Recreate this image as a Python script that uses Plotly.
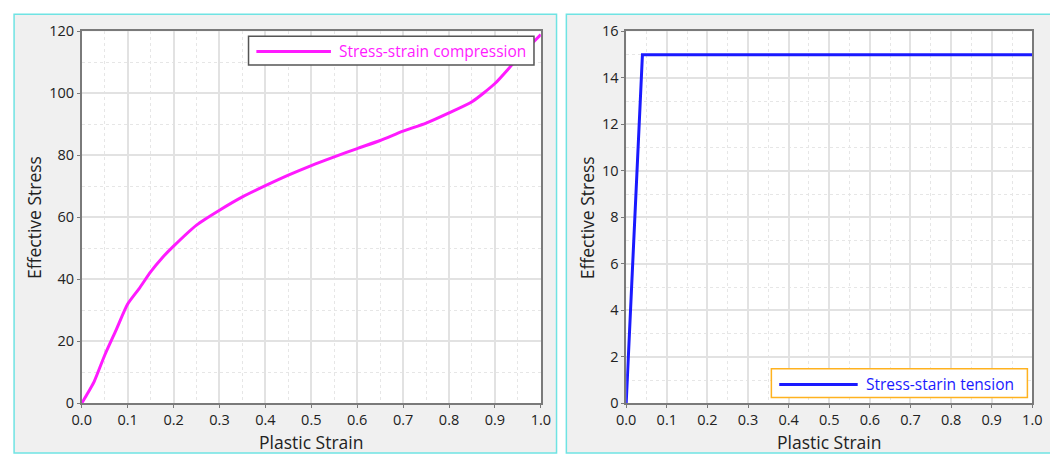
import plotly.graph_objects as go

# ---------------- data ----------------
comp_strain = [0, 0.01, 0.027, 0.05, 0.075, 0.1, 0.125, 0.15, 0.175, 0.2, 0.25, 0.3,
               0.35, 0.4, 0.45, 0.5, 0.55, 0.6, 0.65, 0.7, 0.75, 0.8, 0.85, 0.9,
               0.94, 0.97, 1.0]
comp_stress = [0, 2.5, 7, 15.5, 23.7, 32, 37, 42.4, 46.9, 50.7, 57.5, 62.3,
               66.6, 70.2, 73.6, 76.7, 79.5, 82.2, 84.8, 87.8, 90.4, 93.7, 97.3, 103.2,
               109.7, 114.5, 119]
tens_strain = [0, 0.04, 1.0]
tens_stress = [0, 15, 15]

comp_name = "Stress-strain compression"
tens_name = "Stress-starin tension"
x_title = "Plastic Strain"
y_title = "Effective Stress"

# figure is placed inside the page body (8px default margin)
OFF = 8
W, H = 1058 - OFF, 464 - OFF
FONT = "Open Sans"
TXT = "#222222"
MAG = "#ff1aff"
BLUE = "#1a1aff"
TICK_SIZE = 14.5
TITLE_SIZE = 17.5
LEG_SIZE = 15.5


def px(x):
    return (x - OFF) / W


def py(y):
    return 1 - (y - OFF) / H


fig = go.Figure()
fig.add_trace(go.Scatter(x=comp_strain, y=comp_stress, mode="lines", name=comp_name,
                         line=dict(color=MAG, width=3, shape="spline", smoothing=0.6),
                         xaxis="x", yaxis="y", showlegend=False))
fig.add_trace(go.Scatter(x=tens_strain, y=tens_stress, mode="lines", name=tens_name,
                         line=dict(color=BLUE, width=3), xaxis="x2", yaxis="y2",
                         showlegend=False))

ydom = [py(410), py(22)]
axis_common = dict(
    showline=True, linecolor="#7a7a7a", linewidth=1.5, mirror=True,
    showgrid=True, gridcolor="#e2e2e2", gridwidth=1.5,
    ticks="outside", ticklen=3, tickcolor="#7a7a7a", tickwidth=1,
    tickfont=dict(family=FONT, size=TICK_SIZE, color=TXT),
    zeroline=False,
)
xcommon = dict(axis_common, range=[0, 1], dtick=0.1, tick0=0, tickformat=".1f",
               minor=dict(dtick=0.05, showgrid=True, gridcolor="#e6e6e6",
                          griddash="dot", gridwidth=1))

fig.update_layout(
    width=W, height=H,
    margin=dict(l=0, r=0, t=0, b=0),
    paper_bgcolor="white", plot_bgcolor="white",
    font=dict(family=FONT, color=TXT),
    showlegend=False,
    xaxis=dict(xcommon, domain=[px(73), px(541)], anchor="y"),
    yaxis=dict(axis_common, domain=ydom, range=[0, 120], dtick=20, anchor="x",
               minor=dict(dtick=10, showgrid=True, gridcolor="#e6e6e6",
                          griddash="dot", gridwidth=1)),
    xaxis2=dict(xcommon, domain=[px(628), px(1042)], anchor="y2"),
    yaxis2=dict(axis_common, domain=ydom, range=[0, 16], dtick=2, anchor="x2",
                minor=dict(dtick=1, showgrid=True, gridcolor="#e6e6e6",
                           griddash="dot", gridwidth=1)),
)

shapes = []
# panel backgrounds
shapes.append(dict(type="rect", xref="paper", yref="paper", layer="below",
                   x0=px(4), x1=px(557), y0=py(462), y1=py(4),
                   fillcolor="#f0f0f0", line=dict(color="#6fe3e3", width=1.5)))
shapes.append(dict(type="rect", xref="paper", yref="paper", layer="below",
                   x0=px(567), x1=px(1066), y0=py(462), y1=py(4),
                   fillcolor="#f0f0f0", line=dict(color="#6fe3e3", width=1.5)))
# white plotting areas
shapes.append(dict(type="rect", xref="x domain", yref="y domain", layer="below",
                   x0=0, x1=1, y0=0, y1=1, fillcolor="white", line=dict(width=0)))
shapes.append(dict(type="rect", xref="x2 domain", yref="y2 domain", layer="below",
                   x0=0, x1=1, y0=0, y1=1, fillcolor="white", line=dict(width=0)))
# legend boxes (drawn manually)
shapes.append(dict(type="rect", xref="paper", yref="paper", layer="above",
                   x0=px(243), x1=px(534), y0=py(57), y1=py(27),
                   fillcolor="white", line=dict(color="#555555", width=1.5)))
shapes.append(dict(type="line", xref="paper", yref="paper", layer="above",
                   x0=px(251), x1=px(327), y0=py(43), y1=py(43),
                   line=dict(color=MAG, width=3)))
shapes.append(dict(type="rect", xref="paper", yref="paper", layer="above",
                   x0=px(776), x1=px(1037), y0=py(404), y1=py(374),
                   fillcolor="white", line=dict(color="#ffb21f", width=1.5)))
shapes.append(dict(type="line", xref="paper", yref="paper", layer="above",
                   x0=px(784), x1=px(864), y0=py(390.5), y1=py(390.5),
                   line=dict(color=BLUE, width=3)))
fig.update_layout(shapes=shapes)

ann = []
ann.append(dict(text=comp_name, xref="paper", yref="paper", x=px(333), y=py(42),
                xanchor="left", yanchor="middle", showarrow=False,
                font=dict(family=FONT, size=LEG_SIZE, color=MAG)))
ann.append(dict(text=tens_name, xref="paper", yref="paper", x=px(870), y=py(389.5),
                xanchor="left", yanchor="middle", showarrow=False,
                font=dict(family=FONT, size=LEG_SIZE, color=BLUE)))
for cx in (307, 835):
    ann.append(dict(text=x_title, xref="paper", yref="paper", x=px(cx), y=py(450.5),
                    xanchor="center", yanchor="middle", showarrow=False,
                    font=dict(family=FONT, size=TITLE_SIZE, color=TXT)))
for cx in (25, 588):
    ann.append(dict(text=y_title, xref="paper", yref="paper", x=px(cx), y=py(216),
                    xanchor="center", yanchor="middle", showarrow=False, textangle=-90,
                    font=dict(family=FONT, size=TITLE_SIZE, color=TXT)))
fig.update_layout(annotations=ann)

fig.write_html("out.html")
